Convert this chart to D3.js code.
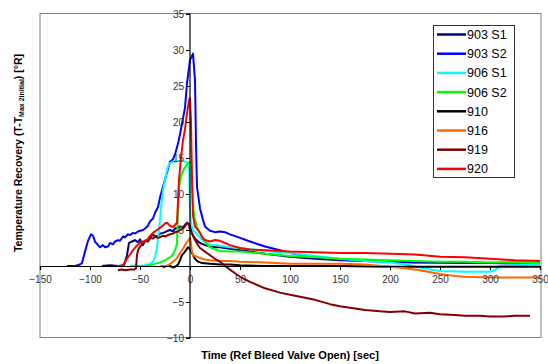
<!DOCTYPE html>
<html><head><meta charset="utf-8">
<script src="https://cdn.jsdelivr.net/npm/d3@7"></script>
<style>body{margin:0;background:#fff;} svg{display:block;font-family:"Liberation Sans",Arial,sans-serif;}</style>
</head><body>
<svg id="c" width="548" height="364"></svg>
<script>
const seriesNames = ["903 S1","903 S2","906 S1","906 S2","910","916","919","920"];
const seriesColors = ["#000080","#0000ff","#00ffff","#00ff00","#000000","#ff6600","#800000","#ff0000"];
const xTicks = [-150,-100,-50,0,50,100,150,200,250,300,350];
const yTicks = [-10,-5,5,10,15,20,25,30,35];

const s903S1 = [[-88,0],[-80,0.1],[-72,0],[-66,0.1],[-63,1.5],[-61,3.2],[-58,3.4],[-55,3.6],[-52,3.3],[-50,3.7],[-47,2.9],[-45,3.5],[-42,3.4],[-40,3.9],[-37,4.4],[-35,4.1],[-32,4.2],[-30,4.5],[-27,4.6],[-25,4.7],[-22,4.9],[-20,5.0],[-17,4.8],[-15,5.2],[-12,5.3],[-10,5.5],[-7,5.4],[-5,5.7],[-3,6.0],[-1,5.8],[0,5],[2,4.5],[5,3.8],[10,3.2],[15,2.9],[20,2.7],[25,2.6],[30,2.6],[40,2.4],[50,2.2],[60,2.0],[75,1.7],[100,1.3],[125,1.0],[150,0.8],[175,0.7],[200,0.6],[225,0.5],[250,0.5],[275,0.4],[300,0.4],[325,0.5],[350,0.4]];
const s903S2 = [[-123,0],[-115,0],[-110,0.2],[-108,0.4],[-105,2],[-102,3.5],[-99,4.4],[-97,4.2],[-95,3.4],[-92,2.9],[-90,2.6],[-87,2.9],[-85,2.6],[-82,2.7],[-80,3.2],[-77,3.0],[-75,3.4],[-72,3.6],[-70,3.5],[-67,4.1],[-65,4.0],[-62,4.4],[-60,4.3],[-57,4.6],[-55,4.5],[-52,4.8],[-50,4.9],[-47,5.0],[-45,5.2],[-42,5.6],[-40,6.2],[-37,6.6],[-35,7.4],[-32,8.2],[-30,9.5],[-27,11],[-25,12],[-22,13.5],[-20,14.5],[-17,14.8],[-15,15.5],[-12,17],[-10,18.3],[-7,20.5],[-5,22],[-3,25.4],[-1,27.5],[0,28.6],[3,29.5],[5,25.8],[6,17],[7,11],[10,8],[13,6.4],[15,5.5],[20,4.9],[25,4.7],[30,4.8],[35,4.7],[40,4.4],[50,3.9],[60,3.4],[75,2.7],[90,2.2],[100,1.8],[125,1.2],[150,0.9],[175,0.7],[200,0.6],[250,0.5],[300,0.4],[350,0.3]];
const s906S1 = [[-60,0],[-55,0.1],[-50,0],[-45,0.1],[-40,0.3],[-37,0.6],[-35,1.2],[-33,2.6],[-31,5],[-29,8],[-27,10.5],[-25,12],[-23,13.3],[-21,14.2],[-19,14.4],[-15,14.5],[-10,14.6],[-5,14.5],[-2,14.4],[-1,14],[0,8],[1,6],[3,5],[6,4.5],[10,4],[15,3.3],[20,3],[25,2.9],[30,2.8],[40,2.6],[50,2.5],[75,2.1],[100,1.8],[125,1.4],[150,1.0],[175,0.7],[200,0.5],[220,0.1],[240,-0.5],[250,-0.7],[275,-0.8],[300,-0.8],[305,-0.6],[310,0],[325,0.1],[350,0.2]];
const s906S2 = [[-52,0],[-45,0],[-40,0.1],[-35,0.3],[-30,0.5],[-25,0.8],[-20,1.2],[-17,1.6],[-15,2.2],[-13,3],[-12,8],[-11,11],[-9,12.5],[-6,13.5],[-3,14.1],[0,14.4],[1.5,14],[2.5,10],[4,7],[7,5.4],[10,4.6],[15,3.4],[20,2.6],[25,2.3],[30,2.1],[40,2.0],[50,2.0],[75,1.7],[100,1.4],[125,1.2],[150,1.0],[175,0.9],[200,0.8],[225,0.7],[250,0.6],[275,0.6],[300,0.5],[325,0.5],[350,0.4]];
const s910 = [[-27,-0.2],[-24,0],[-20,0],[-17,-0.2],[-15,-0.1],[-12,0.2],[-10,0.8],[-8,1.5],[-5,2],[-2,2.6],[0,2.3],[2,1.8],[5,1],[8,0.6],[12,0.4],[20,0.3],[30,0.2],[40,0.2],[50,0.1],[75,0],[100,0],[150,0],[200,-0.1],[250,-0.1],[300,-0.1],[350,-0.1]];
const s916 = [[-30,0],[-25,0],[-22,0.1],[-20,0.3],[-17,0.6],[-15,0.8],[-12,1.3],[-10,1.8],[-7,2.4],[-5,2.9],[-3,3.3],[-1,3.7],[0,3.9],[1,3.2],[2,2],[3,1.5],[7,1.3],[10,1.1],[15,0.9],[20,0.8],[30,0.7],[40,0.7],[50,0.6],[75,0.5],[100,0.3],[125,0.3],[150,0.3],[175,0.2],[200,-0.1],[215,-0.3],[230,-0.6],[250,-1.1],[265,-1.4],[275,-1.5],[300,-1.6],[325,-1.6],[350,-1.6]];
const s919 = [[-72,-0.6],[-68,-0.5],[-64,-0.6],[-60,-0.5],[-56,-0.5],[-54,-0.3],[-53,1.5],[-52,2.2],[-50,2.7],[-48,3.0],[-45,3.5],[-42,3.6],[-40,3.9],[-37,3.8],[-35,4.1],[-32,3.9],[-30,4.0],[-27,4.2],[-25,4.1],[-22,4.3],[-20,4.4],[-17,4.5],[-15,4.7],[-12,4.8],[-10,5.0],[-7,5.2],[-5,5.5],[-3,6],[-1,5.8],[0,5.5],[2,4.5],[5,3.6],[8,2.9],[10,2.5],[15,2],[20,1.5],[25,1],[30,0.6],[35,0],[40,-0.5],[45,-1],[50,-1.5],[60,-2.2],[75,-3.1],[90,-3.7],[100,-4],[115,-4.4],[125,-4.7],[140,-5.3],[150,-5.6],[165,-5.9],[175,-6.1],[190,-6.3],[200,-6.4],[215,-6.3],[225,-6.6],[240,-6.5],[250,-6.7],[265,-6.8],[275,-6.9],[290,-6.9],[300,-7],[315,-7],[325,-6.9],[340,-6.9]];
const s920 = [[-73,0],[-68,0],[-66,0.3],[-63,1],[-60,1.6],[-57,2.2],[-54,2.7],[-50,3.2],[-47,3.4],[-43,3.6],[-40,4.2],[-37,4.6],[-33,5.0],[-30,5.3],[-27,5.6],[-25,5.9],[-23,6],[-20,5.6],[-17,5.4],[-15,5.7],[-13,6],[-12,9],[-11,12],[-9,15],[-7,17.5],[-5,19],[-3,21.2],[-1,23],[0,23.3],[1,20],[2,12],[3,7],[5,5.5],[8,5],[10,4.6],[13,3.8],[15,3.6],[20,3.4],[25,3.6],[30,3.5],[35,3.2],[40,2.9],[50,2.5],[60,2.3],[75,2.2],[100,2.0],[125,1.9],[150,1.8],[175,1.8],[200,1.7],[225,1.6],[250,1.3],[275,1.2],[300,1.0],[325,0.8],[350,0.7]];
const seriesData = [s903S1,s903S2,s906S1,s906S2,s910,s916,s919,s920];

const svg = d3.select("#c");
const x = d3.scaleLinear().domain([-150,350]).range([40,540]);
const y = d3.scaleLinear().domain([-10,35]).range([338,14]);

// plot frame
svg.append("rect").attr("x",40).attr("y",13.5).attr("width",501).attr("height",324)
  .attr("fill","#fff").attr("stroke","#808080").attr("stroke-width",1);

// series
const line = d3.line().x(d=>x(d[0])).y(d=>y(d[1]));
seriesData.forEach((s,i)=>{
  svg.append("path").attr("d",line(s)).attr("fill","none")
    .attr("stroke",seriesColors[i]).attr("stroke-width",2).attr("stroke-linejoin","round");
});

// axes
const xAxis = svg.append("g").attr("transform",`translate(0,${y(0)})`)
  .call(d3.axisBottom(x).tickValues(xTicks).tickSize(4).tickPadding(6).tickFormat(d3.format("d")));
const yAxis = svg.append("g").attr("transform",`translate(${x(0)},0)`)
  .call(d3.axisLeft(y).tickValues(yTicks).tickSize(4).tickPadding(2).tickFormat(d3.format("d")));
[xAxis,yAxis].forEach(g=>{
  g.select(".domain").attr("stroke","#000").attr("stroke-width",1.2);
  g.selectAll(".tick line").attr("stroke","#000");
  g.selectAll("text").attr("font-size",10).attr("fill","#333").attr("font-family","Liberation Sans, Arial, sans-serif");
});
yAxis.select(".domain").attr("d",`M-4,${y(35)}H0V${y(-10)}H-4`);

// titles
svg.append("text").attr("x",290).attr("y",359).attr("text-anchor","middle")
  .attr("font-size",11).attr("font-weight","bold").attr("fill","#000")
  .text("Time (Ref Bleed Valve Open) [sec]");
const yt = svg.append("text").attr("transform","translate(22,153) rotate(-90)")
  .attr("text-anchor","middle").attr("font-size",10.5).attr("font-weight","bold").attr("fill","#000");
yt.append("tspan").text("Temperature Recovery (T-T");
yt.append("tspan").attr("font-size",7).attr("dy",2).text("Max 2initial");
yt.append("tspan").attr("dy",-2).text(") [°R]");

// legend
const lg = svg.append("g");
lg.append("rect").attr("x",433.5).attr("y",25.5).attr("width",81).attr("height",152)
  .attr("fill","#fff").attr("stroke","#333").attr("stroke-width",1);
seriesNames.forEach((n,i)=>{
  const yy = 34.5 + i*19.2;
  lg.append("line").attr("x1",437).attr("x2",466).attr("y1",yy).attr("y2",yy)
    .attr("stroke",seriesColors[i]).attr("stroke-width",2.5);
  lg.append("text").attr("x",467).attr("y",yy+4.5).attr("font-size",12.5).attr("fill","#000").text(n);
});
</script>
</body></html>
